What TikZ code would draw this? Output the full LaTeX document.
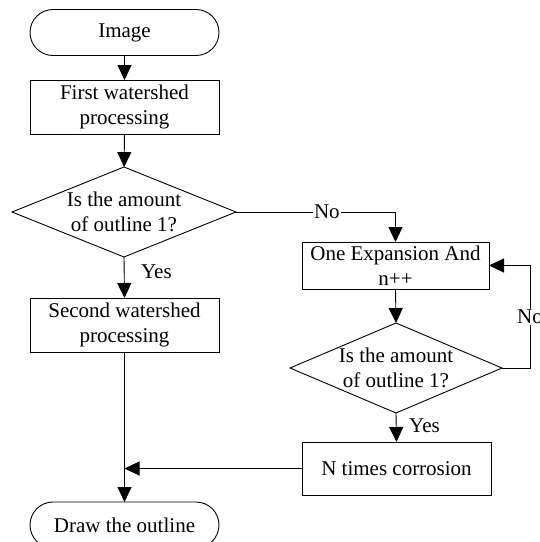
\documentclass[tikz,border=0pt]{standalone}
\usepackage{fontspec}
\setmainfont{Liberation Serif}
\usetikzlibrary{shapes.geometric,arrows.meta}
\begin{document}
\begin{tikzpicture}[x=1pt,y=-1pt,
  font=\fontsize{21}{25.5}\selectfont,
  every node/.style={inner sep=0pt, outer sep=0pt},
  line/.style={line width=0.9pt, draw=black},
  arr/.style={line, -{Triangle[length=15pt,width=14pt]}},
  term/.style={line, rectangle, rounded corners=23pt, minimum width=189pt, minimum height=46pt, align=center},
  proc/.style={line, rectangle, minimum width=189pt, minimum height=54pt, align=center},
  dec/.style={line, diamond, shape aspect=2.4, align=center},
  lbl/.style={fill=white, inner sep=1pt}
]
\useasboundingbox (0,0) rectangle (540,542);
\node[term] (start) at (124.5,32.5) {Image};
\node[proc] (b1) at (124.5,107) {First watershed\\processing};
\node[dec, minimum width=224pt, minimum height=90pt] (d1) at (124,212) {Is the amount\\of outline 1?};
\node[proc] (b2) at (124.5,325) {Second watershed\\processing};
\node[term] (end) at (124.5,525) {Draw the outline};
\node[proc, minimum width=187pt, minimum height=47pt] (b3) at (395.5,265.5) {One Expansion And\\n++};
\node[dec, minimum width=212pt, minimum height=90pt] (d2) at (396,368) {Is the amount\\of outline 1?};
\node[proc, minimum height=53pt] (b4) at (396.5,468.5) {N times corrosion};
\coordinate (j) at (b4.west -| b2.south);

\draw[arr] (start) -- (b1);
\draw[arr] (b1) -- (d1);
\draw[arr] (d1.east) -| node[lbl, pos=0.285] {No} (b3.north);
\draw[arr] (d1.south) -- node[right=17pt, pos=0.35] {Yes} (b2.north);
\draw[arr] (b2.south) -- (end.north);
\draw[arr] (b3.south) -- (d2.north);
\draw[arr] (d2.east) -- ++(28,0) |- node[lbl, pos=0.25] {No} (b3.east);
\draw[arr] (d2.south) -- node[right=13pt, pos=0.45] {Yes} (b4.north);
\draw[arr] (b4.west) -- (j);
\end{tikzpicture}
\end{document}
